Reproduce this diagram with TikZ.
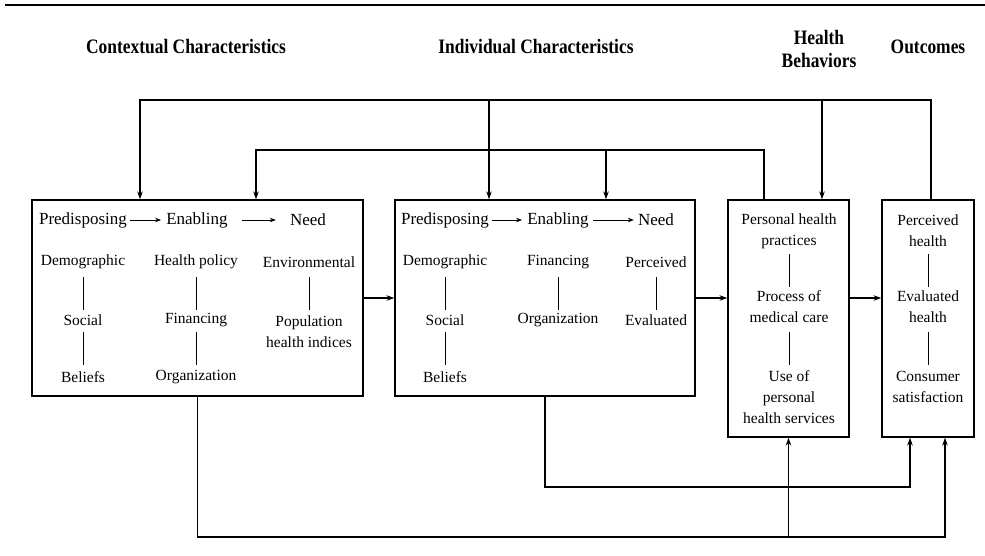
\documentclass[tikz,border=0pt]{standalone}
\usepackage{fontspec}
\setmainfont{Liberation Serif}
\newfontfamily\hdfont[FakeStretch=0.85]{Liberation Serif}
\usetikzlibrary{arrows.meta,calc}
\begin{document}
\begin{tikzpicture}[x=1pt,y=-1pt,
  box/.style={draw, line width=1.3pt, inner sep=0pt},
  arr/.style={line width=1.1pt, -{Stealth[length=8pt,width=5.5pt]}},
  sarr/.style={line width=0.9pt, -{Stealth[length=6pt,width=4.5pt]}},
  hd/.style={font=\hdfont\bfseries\fontsize{20.5}{23}\selectfont, align=center, inner sep=0pt},
  cat/.style={font=\fontsize{17}{20}\selectfont, inner sep=2pt},
  itm/.style={font=\fontsize{15.5}{21}\selectfont, align=center, inner sep=1pt},
  vl/.style 2 args={line width=1pt, shorten <=#1pt, shorten >=#2pt}]
\useasboundingbox (0,0) rectangle (985,556);
\draw[line width=2.5pt] (5,5) -- (985,5);

% headers
\node[hd] (h1) at (186,47) {Contextual Characteristics};
\node[hd] (h2) at (536,47) {Individual Characteristics};
\node[hd] (h3) at (819,48.5) {Health\\Behaviors};
\node[hd] (h4) at (928,47) {Outcomes};

% boxes
\node[box, minimum width=331pt, minimum height=196pt] (b1) at (197.5,298) {};
\node[box, minimum width=300pt, minimum height=196pt] (b2) at (545,298) {};
\node[box, minimum width=121pt, minimum height=237pt] (b3) at (788.5,318.5) {};
\node[box, minimum width=92pt, minimum height=237pt] (b4) at (928,318.5) {};

% box 1 contents
\node[cat] (p1) at (83,220) {Predisposing};
\node[cat] (e1) at (197,220) {Enabling};
\node[cat] (n1) at (308,220) {Need};
\draw[sarr, shorten <=1pt, shorten >=3pt] (p1.east) -- (e1.west);
\draw[sarr, shorten <=12pt, shorten >=12pt] (e1.east) -- (n1.west);
\node[itm] (d1) at (83,262) {Demographic};
\node[itm] (s1) at (83,320) {Social};
\node[itm] (bf1) at (83,377) {Beliefs};
\node[itm] (hp1) at (196,262) {Health policy};
\node[itm] (f1) at (196,320) {Financing};
\node[itm] (o1) at (196,377) {Organization};
\node[itm] (ev1) at (309,262) {Environmental};
\node[itm] (ph1) at (309,332) {Population\\health indices};
\draw[vl={15}{10}] (d1.center) -- (s1.center);
\draw[vl={12}{12}] (s1.center) -- (bf1.center);
\draw[vl={15}{10}] (hp1.center) -- (f1.center);
\draw[vl={12}{12}] (f1.center) -- (o1.center);
\draw[vl={15}{22}] (ev1.center) -- (ph1.center);

% box 2 contents
\node[cat] (p2) at (445,220) {Predisposing};
\node[cat] (e2) at (558,220) {Enabling};
\node[cat] (n2) at (656,220) {Need};
\draw[sarr, shorten <=1pt, shorten >=3pt] (p2.east) -- (e2.west);
\draw[sarr, shorten <=2pt, shorten >=2pt] (e2.east) -- (n2.west);
\node[itm] (d2) at (445,262) {Demographic};
\node[itm] (s2) at (445,320) {Social};
\node[itm] (bf2) at (445,377) {Beliefs};
\node[itm] (fi2) at (558,262) {Financing};
\node[itm] (or2) at (558,320) {Organization};
\node[itm] (pc2) at (656,262) {Perceived};
\node[itm] (ev2) at (656,320) {Evaluated};
\draw[vl={15}{10}] (d2.center) -- (s2.center);
\draw[vl={12}{12}] (s2.center) -- (bf2.center);
\draw[vl={15}{10}] (fi2.center) -- (or2.center);
\draw[vl={15}{10}] (pc2.center) -- (ev2.center);

% box 3 contents
\node[itm] (q1) at (789,231) {Personal health\\practices};
\node[itm] (q2) at (789,307) {Process of\\medical care};
\node[itm] (q3) at (789,397) {Use of\\personal\\health services};
\draw[vl={23}{20}] (q1.center) -- (q2.center);
\draw[vl={25}{32}] (q2.center) -- (q3.center);

% box 4 contents
\node[itm] (r1) at (928,231) {Perceived\\health};
\node[itm] (r2) at (928,307) {Evaluated\\health};
\node[itm] (r3) at (928,387) {Consumer\\satisfaction};
\draw[vl={23}{20}] (r1.center) -- (r2.center);
\draw[vl={25}{22}] (r2.center) -- (r3.center);

% horizontal flow
\draw[arr] (b1.east) -- (b2.west);
\draw[arr] (b2.east) -- (b2.east -| b3.west);
\draw[arr] (b2.east -| b3.east) -- (b2.east -| b4.west);

% top feedback loops
\coordinate (ta) at (140,100);
\coordinate (tb) at (489,100);
\coordinate (tc) at (822,100);
\draw[arr] ([xshift=3pt]b4.north) |- (ta) -- (ta |- b1.north);
\draw[arr] (tb) -- (tb |- b2.north);
\draw[arr] (tc) -- (tc |- b3.north);
\coordinate (ia) at (256,150);
\coordinate (ib) at (606,150);
\draw[arr] ([xshift=-24.5pt]b3.north) |- (ia) -- (ia |- b1.north);
\draw[arr] (ib) -- (ib |- b2.north);

% bottom links
\coordinate (ba) at (945,537);
\coordinate (bb) at (910,487);
\draw[arr] (b1.south) |- (ba) -- (ba |- b4.south);
\draw[arr] (b3.south |- ba) -- (b3.south);
\draw[arr] (b2.south) |- (bb) -- (bb |- b4.south);
\end{tikzpicture}
\end{document}
